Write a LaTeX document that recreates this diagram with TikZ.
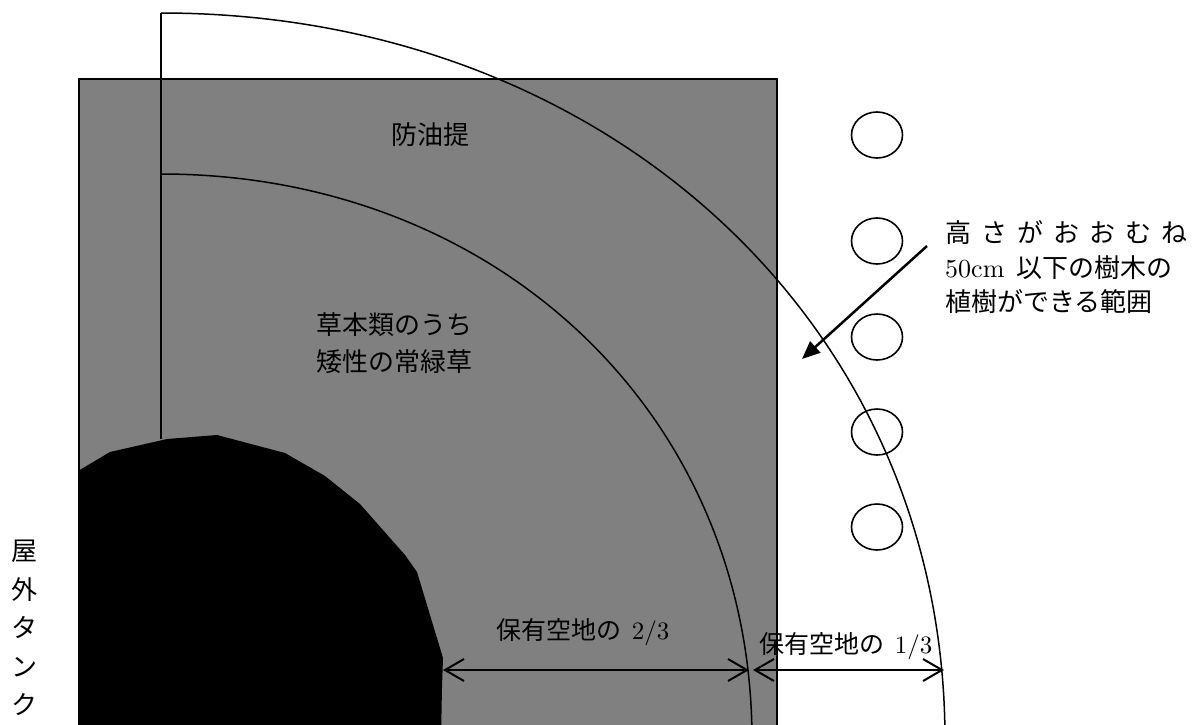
\documentclass[tikz,border=0pt]{standalone}
\usepackage{fontspec}
\setmainfont{lmroman10-regular.otf}
\newfontfamily\jp{Noto Sans CJK JP}
\usetikzlibrary{arrows.meta}
\definecolor{dikegray}{RGB}{128,128,128}
\tikzset{
  lbl/.style={font=\fontsize{26pt}{37pt}\selectfont, inner sep=0pt, text=black},
  dimlbl/.style={font=\fontsize{25pt}{30pt}\selectfont, inner sep=0pt, text=black},
  dimarrow/.style={line width=2pt, {Straight Barb[length=19pt,width=22pt,line width=2pt]}-{Straight Barb[length=19pt,width=22pt,line width=2pt]}},
  ptrarrow/.style={line width=2.5pt, -{Triangle[length=18pt,width=15pt]}},
  tree/.style={draw=black, line width=1.6pt},
  thinline/.style={draw=black, line width=1.5pt}
}
\begin{document}
\begin{tikzpicture}[x=1pt,y=-1pt]
\useasboundingbox (0,0) rectangle (1195,724);
\clip (0,0) rectangle (1195,724);
% dike (oil barrier) area
\filldraw[fill=dikegray, draw=black, line width=2pt] (79,79) rectangle (777,760);
% tank
\fill[black] (78,471) -- (110,452) -- (167,439) -- (217,435) -- (285,453) -- (325,476)
  -- (360,504) -- (405,555) -- (417,572) -- (443,658) -- (442,687) -- (441,740) -- (78,740) -- cycle;
% radius line and arcs
\coordinate (top) at (161,13);
\coordinate (tanktop) at (161,439);
\draw[thinline] (top) -- (tanktop);
\draw[thinline] (top) .. controls (604,13) and (945,322) .. (945,740);
\draw[thinline] (161,174) .. controls (495,174) and (752,413) .. (752,740);
% trees
\foreach \i/\yy in {1/135,2/241,3/337,4/432,5/527}{
  \draw[tree] (877,\yy) ellipse [x radius=25.5, y radius=23];
}
% dimension arrows
\coordinate (tankedge) at (443,670);
\coordinate (innerarc) at (749,670);
\coordinate (innerarcb) at (753,670);
\coordinate (outerarc) at (944,670);
\draw[dimarrow] (tankedge) -- (innerarc);
\draw[dimarrow] (innerarcb) -- (outerarc);
% pointer arrow
\coordinate (ptrstart) at (927,246);
\coordinate (ptrend) at (802,359);
\draw[ptrarrow] (ptrstart) -- (ptrend);
% labels
\node[lbl] (dike) at (430,135) {\jp 防油提};
\node[lbl, align=center] (grass) at (394,343) {\jp 草本類のうち\\\jp 矮性の常緑草};
\node[dimlbl] (twothirds) at (583,632) {{\jp 保有空地の}\hspace{10pt}2/3};
\node[dimlbl] (onethird) at (846,646) {{\jp 保有空地の}\hspace{10pt}1/3};
\node[lbl, anchor=west] (tl1) at (945,233) {\jp\makebox[242pt][s]{高\hfill さ\hfill が\hfill お\hfill お\hfill む\hfill ね}};
\node[lbl, anchor=west] (tl2) at (945,268) {50cm\hspace{12pt}{\jp 以下の樹木の}};
\node[lbl, anchor=west] (tl3) at (945,302) {\jp 植樹ができる範囲};
\node[lbl, anchor=north, align=center, font=\fontsize{26pt}{38.5pt}\selectfont] (tank) at (25,540) {\jp 屋\\\jp 外\\\jp タ\\\jp ン\\\jp ク};
\end{tikzpicture}
\end{document}
